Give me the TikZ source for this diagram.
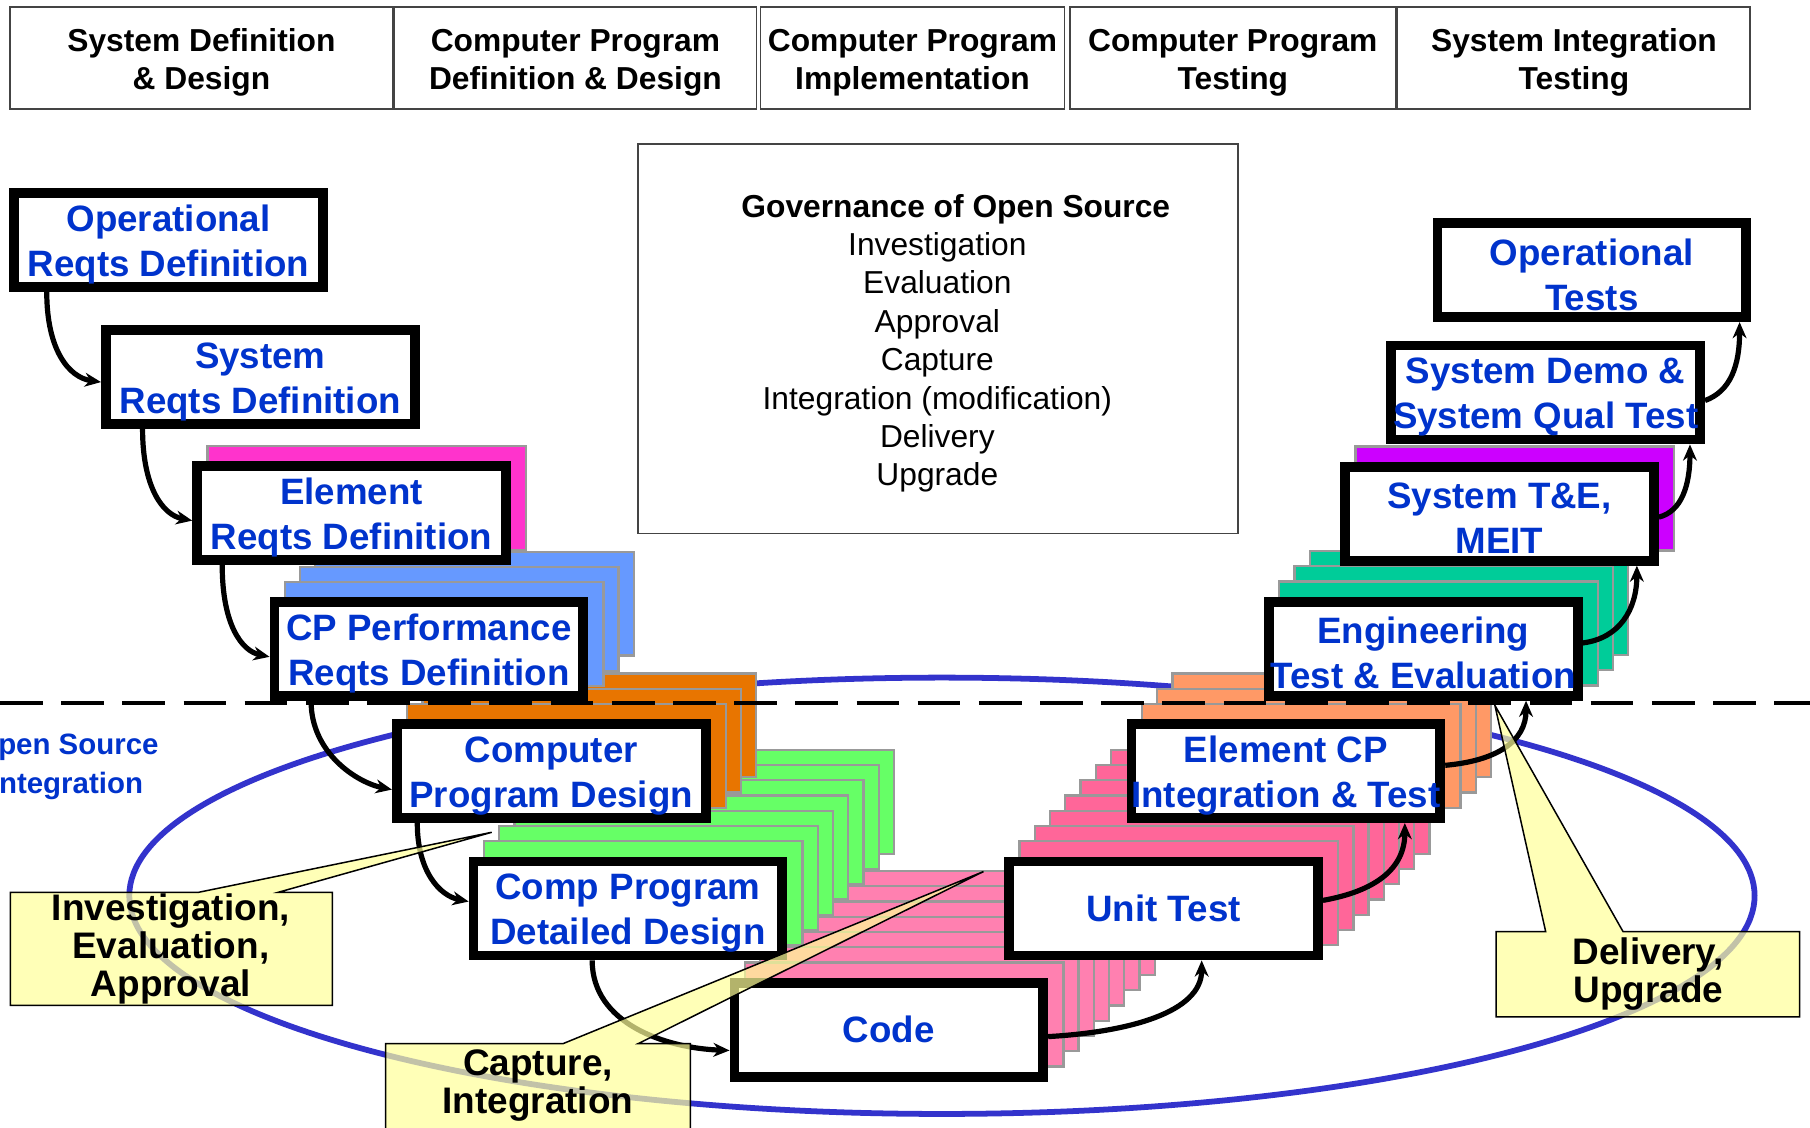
\documentclass[tikz,border=0pt]{standalone}
\usepackage{fontspec}
\setmainfont{Liberation Sans}
\usetikzlibrary{arrows.meta,calc}
\definecolor{txtblue}{HTML}{0033CC}
\definecolor{ellblue}{HTML}{3333CC}
\definecolor{laygray}{HTML}{999999}
\definecolor{hdrgray}{HTML}{444444}
\definecolor{callyellow}{HTML}{FFFF99}
\definecolor{cmag}{HTML}{FF33CC}
\definecolor{cblue}{HTML}{6699FF}
\definecolor{corange}{HTML}{E87500}
\definecolor{cgreen}{HTML}{66FF66}
\definecolor{clpink}{HTML}{FF80B0}
\definecolor{cpink}{HTML}{FF6699}
\definecolor{csalmon}{HTML}{FF9966}
\definecolor{cteal}{HTML}{00CC99}
\definecolor{cpurple}{HTML}{CC00FF}
\newcommand\mystack[4]{%
  \foreach \k in {#3,...,1}{%
    \filldraw[lay, fill=#4] ($(#1,#2)+(\k*13.2-138,-\k*13.2-45)$) rectangle ++(276,90);
  }}
\newcommand\mybox[5][-4pt]{%
  \node[bx] (#2) at (#3,#4) {};
  \node[bt, yshift=#1] (#2t) at (#2.center) {#5};}
\newcommand\hcell[5]{%
  \node[hdr, minimum width=#4pt, minimum height=88.5pt] (#1) at (#2,#3) {};
  \node[ht] (#1t) at (#1.center) {#5};}
\begin{document}
\begin{tikzpicture}[x=1pt,y=-1pt]
\tikzset{
  bx/.style={draw=black, line width=8.5pt, fill=white, minimum width=267.5pt, minimum height=81.5pt, inner sep=0pt},
  bt/.style={text=txtblue, font=\fontsize{31.8}{39}\selectfont\bfseries, align=center, inner sep=0pt},
  lay/.style={draw=laygray, line width=2pt},
  conn/.style={line width=4.5pt, -{Stealth[length=14pt,width=12pt,inset=4.5pt]}},
  hdr/.style={draw=hdrgray, line width=1.5pt, inner sep=0pt},
  ht/.style={align=center, inner sep=0pt, yshift=-4pt, font=\fontsize{27.5}{33}\selectfont\bfseries},
  govbox/.style={draw=hdrgray, line width=1.5pt, inner sep=0pt},
  gt/.style={align=center, inner sep=0pt, font=\fontsize{27.5}{33.3}\selectfont},
  ell/.style={draw=ellblue, line width=5pt},
  ost/.style={text=txtblue, align=center, inner sep=0pt, font=\fontsize{25.5}{34}\selectfont\bfseries},
  call/.style={draw=black, line width=1.3pt, fill=callyellow, fill opacity=0.7, line join=miter},
  ct/.style={align=center, inner sep=0pt, font=\fontsize{32}{33}\selectfont\bfseries},
  dashline/.style={line width=4pt, dash pattern=on 37pt off 16pt}
}
\fill[white] (0,0) rectangle (1568,977);
\useasboundingbox (0,0) rectangle (1568,977);

% header
\hcell{h1}{174.5}{50}{331.5}{System Definition\\\& Design}
\hcell{h2}{498.5}{50}{313.5}{Computer Program\\Definition \& Design}
\hcell{h3}{790.5}{50}{263.5}{Computer Program\\Implementation}
\hcell{h4}{1068}{50}{282.5}{Computer Program\\Testing}
\hcell{h5}{1363.5}{50}{305.5}{System Integration\\Testing}

% governance
\node[govbox, minimum width=519.5pt, minimum height=337.5pt] (gov) at (812.5,293.5) {};
\node[gt] (govtitle) at (828,181) {\bfseries Governance of Open Source};
\node[gt] (govlist) at (812,314) {Investigation\\Evaluation\\Approval\\Capture\\Integration (modification)\\Delivery\\Upgrade};

% ellipse
\draw[ell] (816,776) ellipse [x radius=704pt, y radius=189pt];
\node[ost] (osi) at (58,664) {Open Source\\Integration};

% stacks and boxes
\mystack{770}{892}{7}{clpink}
\mybox[0pt]{code}{770}{892}{Code}
\mystack{544}{787}{7}{cgreen}
\mybox{cpdd}{544}{787}{Comp Program\\Detailed Design}
\mystack{477.5}{668}{3}{corange}
\mybox{cpd}{477.5}{668}{Computer\\Program Design}
\mystack{371.5}{562.5}{3}{cblue}
\mybox{cpperf}{371.5}{562.5}{CP Performance\\Reqts Definition}
\mystack{304.5}{444.5}{1}{cmag}
\mybox{elemreq}{304.5}{444.5}{Element\\Reqts Definition}
\mybox{sysreq}{225.5}{326.5}{System\\Reqts Definition}
\mybox{opreq}{146}{208}{Operational\\Reqts Definition}

\mystack{1008}{787}{7}{cpink}
\mybox[0pt]{unit}{1008}{787}{Unit Test}
\mystack{1114}{668}{3}{csalmon}
\mybox{elemcp}{1114}{668}{Element CP\\Integration \& Test}
\mystack{1233}{562}{3}{cteal}
\mybox{engte}{1233}{562}{Engineering\\Test \& Evaluation}
\mystack{1299}{445}{1}{cpurple}
\mybox{syste}{1299}{445}{System T\&E,\\MEIT}
\mybox{sysdemo}{1339}{340}{System Demo \&\\System Qual Test}
\mybox{optests}{1379}{234}{Operational\\Tests}

% dashed line
\coordinate (dl1) at (0,609);
\coordinate (dl2) at (1568,609);
\draw[dashline] (dl1) -- (dl2);

% connectors left
\draw[conn] ($(opreq.south west)+(32.5,0)$) .. controls +(0,50) and +(-28,-4) .. ($(sysreq.west)+(0,4.5)$);
\draw[conn] ($(sysreq.south west)+(36,0)$) .. controls +(0,50) and +(-26,-5) .. ($(elemreq.west)+(0,6.5)$);
\draw[conn] ($(elemreq.south west)+(26,0)$) .. controls +(0,52) and +(-24,-5) .. ($(cpperf.west)+(0,6.5)$);
\draw[conn] ($(cpperf.south west)+(36,0)$) .. controls +(0,45) and +(-30,-6) .. ($(cpd.west)+(0,16)$);
\draw[conn] ($(cpd.south west)+(22,0)$) .. controls +(0,42) and +(-25,-5) .. ($(cpdd.west)+(0,-6)$);
\draw[conn] ($(cpdd.south west)+(107,0)$) .. controls +(0,55) and +(-55,-2) .. ($(code.west)+(0,18)$);
% connectors right
\draw[conn] ($(code.east)+(0,6)$) .. controls +(70,-4) and +(0,45) .. ($(unit.south west)+(171,0)$);
\draw[conn] ($(unit.east)+(0,-7)$) .. controls +(45,-8) and +(0,40) .. ($(elemcp.south west)+(241,0)$);
\draw[conn] ($(elemcp.east)+(0,-5)$) .. controls +(45,-4) and +(0,35) .. ($(engte.south west)+(227,0)$);
\draw[conn] ($(engte.east)+(0,-5)$) .. controls +(32,-4) and +(0,38) .. ($(syste.south west)+(257,0)$);
\draw[conn] ($(syste.east)+(0,3)$) .. controls +(20,-5) and +(0,35) .. ($(sysdemo.south west)+(263,0)$);
\draw[conn] ($(sysdemo.east)+(0,7)$) .. controls +(22,-8) and +(0,38) .. ($(optests.south west)+(266,0)$);

% callouts
\draw[call] (9,773) -- (172,773) -- (426,721) -- (241,773) -- (288,773) -- (288,871) -- (9,871) -- cycle;
\node[ct] (c1) at (148,822) {Investigation,\\Evaluation,\\Approval};
\draw[call] (334,904) -- (488,904) -- (852,755) -- (553,904) -- (598,904) -- (598,985) -- (334,985) -- cycle;
\node[ct] (c2) at (466,940.5) {Capture,\\Integration};
\draw[call] (1296,807) -- (1339,807) -- (1295,611) -- (1406,807) -- (1559,807) -- (1559,881) -- (1296,881) -- cycle;
\node[ct] (c3) at (1428,844) {Delivery,\\Upgrade};
\end{tikzpicture}
\end{document}
